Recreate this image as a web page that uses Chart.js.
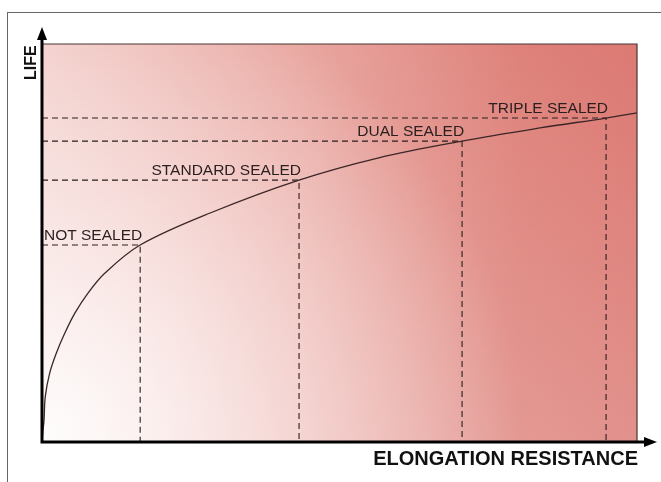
<!DOCTYPE html>
<html>
<head>
<meta charset="utf-8">
<script src="https://cdn.jsdelivr.net/npm/chart.js@4/dist/chart.umd.min.js"></script>
<style>
  html, body { margin: 0; padding: 0; background: #fff; overflow: hidden; }
  #wrap { position: relative; width: 661px; height: 482px; }
  #frame { position: absolute; left: 7px; top: 12px; width: 700px; height: 520px; border-left: 1.5px solid #666; border-top: 1.5px solid #666; }
  canvas { position: absolute; left: 0; top: 0; }
</style>
</head>
<body>
<div id="wrap">
  <div id="frame"></div>
  <canvas id="chart" width="661" height="482"></canvas>
</div>
<script>
// Sealing levels and where they sit on the curve
const levels = ['NOT SEALED', 'STANDARD SEALED', 'DUAL SEALED', 'TRIPLE SEALED'];
const levelX = [16.5, 43.2, 70.6, 94.8];
const levelY = [49.5, 65.8, 75.6, 81.4];

// Life vs elongation resistance curve
const curveX = [0, 0.17, 0.34, 0.55, 1.29, 2.4, 3.82, 5.5, 7.73, 10.54, 16.5, 28.37, 43.2, 56.6, 70.6, 83.7, 94.8, 100];
const curveY = [0, 3.0, 5.5, 11.4, 17.3, 22.3, 27.3, 32.3, 37.4, 42.4, 49.5, 57.6, 65.8, 71.4, 75.6, 78.9, 81.4, 82.7];

const xTitle = 'ELONGATION RESISTANCE';
const yTitle = 'LIFE';

const FONT = '"Liberation Sans", Arial, sans-serif';

// Curve dataset
const datasets = [{
    data: curveX.map((x, i) => ({ x, y: curveY[i] })),
    borderColor: '#3b2626',
    borderWidth: 1.3,
    pointRadius: 0,
    tension: 0.35,
    fill: false
}];

// Dashed guides for each level
levels.forEach((name, i) => {
    datasets.push({
        data: [{ x: 0, y: levelY[i] }, { x: levelX[i], y: levelY[i] }, { x: levelX[i], y: 0 }],
        borderColor: '#2a1e1e',
        borderWidth: 1.1,
        borderDash: [6, 4],
        pointRadius: 0,
        tension: 0,
        fill: false
    });
});

// Gradient background behind the plot
const background = {
    id: 'background',
    beforeDatasetsDraw(chart) {
        const { ctx, chartArea: a } = chart;
        ctx.save();
        let g = ctx.createLinearGradient(a.left, 0, a.right, 0);
        g.addColorStop(0, '#f2cbc7');
        g.addColorStop(0.45, '#e9a6a0');
        g.addColorStop(0.8, '#de827b');
        g.addColorStop(1, '#dc7973');
        ctx.fillStyle = g;
        ctx.fillRect(a.left, a.top, a.right - a.left, a.bottom - a.top);

        g = ctx.createRadialGradient(a.left, a.bottom, 0, a.left, a.bottom, 480);
        g.addColorStop(0, 'rgba(255,255,255,0.95)');
        g.addColorStop(0.5, 'rgba(255,255,255,0.45)');
        g.addColorStop(1, 'rgba(255,255,255,0)');
        ctx.fillStyle = g;
        ctx.fillRect(a.left, a.top, a.right - a.left, a.bottom - a.top);

        g = ctx.createLinearGradient(0, a.top, 0, a.bottom);
        g.addColorStop(0, 'rgba(255,255,255,0)');
        g.addColorStop(1, 'rgba(255,255,255,0.18)');
        ctx.fillStyle = g;
        ctx.fillRect(a.left, a.top, a.right - a.left, a.bottom - a.top);
        ctx.restore();
    }
};

// Axes with arrows, frame lines and text
const decorations = {
    id: 'decorations',
    afterDatasetsDraw(chart) {
        const { ctx, chartArea: a, scales } = chart;
        ctx.save();

        // thin frame on top and right
        ctx.strokeStyle = '#4a3434';
        ctx.lineWidth = 1.2;
        ctx.beginPath();
        ctx.moveTo(a.left, a.top);
        ctx.lineTo(a.right, a.top);
        ctx.lineTo(a.right, a.bottom);
        ctx.stroke();

        // axis lines
        ctx.strokeStyle = '#000';
        ctx.fillStyle = '#000';
        ctx.lineWidth = 3;
        ctx.beginPath();
        ctx.moveTo(a.left, a.bottom + 1.5);
        ctx.lineTo(a.left, 36);
        ctx.moveTo(a.left - 1.5, a.bottom);
        ctx.lineTo(646, a.bottom);
        ctx.stroke();

        // arrow heads
        ctx.beginPath();
        ctx.moveTo(a.left, 27);
        ctx.lineTo(a.left - 5, 40);
        ctx.lineTo(a.left + 5, 40);
        ctx.closePath();
        ctx.fill();
        ctx.beginPath();
        ctx.moveTo(657, a.bottom);
        ctx.lineTo(644, a.bottom - 5);
        ctx.lineTo(644, a.bottom + 5);
        ctx.closePath();
        ctx.fill();

        // level labels, right aligned on each point
        ctx.fillStyle = '#2a1e1e';
        ctx.font = '15.5px ' + FONT;
        ctx.textAlign = 'right';
        ctx.textBaseline = 'alphabetic';
        levels.forEach((name, i) => {
            const px = scales.x.getPixelForValue(levelX[i]);
            const py = scales.y.getPixelForValue(levelY[i]);
            ctx.fillText(name, px + 2, py - 5);
        });

        // axis titles
        ctx.fillStyle = '#111';
        ctx.font = 'bold 20px ' + FONT;
        ctx.textAlign = 'right';
        ctx.fillText(xTitle, a.right + 1, 465);

        ctx.translate(36, 80);
        ctx.rotate(-Math.PI / 2);
        ctx.textAlign = 'left';
        ctx.font = 'bold 16px ' + FONT;
        ctx.fillText(yTitle, 0, 0);
        ctx.restore();
    }
};

new Chart(document.getElementById('chart'), {
    type: 'line',
    data: { datasets },
    options: {
        responsive: false,
        animation: false,
        devicePixelRatio: 1,
        layout: { padding: { left: 42, top: 44, right: 24, bottom: 40 } },
        plugins: { legend: { display: false }, tooltip: { enabled: false } },
        scales: {
            x: { type: 'linear', min: 0, max: 100, display: false },
            y: { type: 'linear', min: 0, max: 100, display: false }
        }
    },
    plugins: [background, decorations]
});
</script>
</body>
</html>
